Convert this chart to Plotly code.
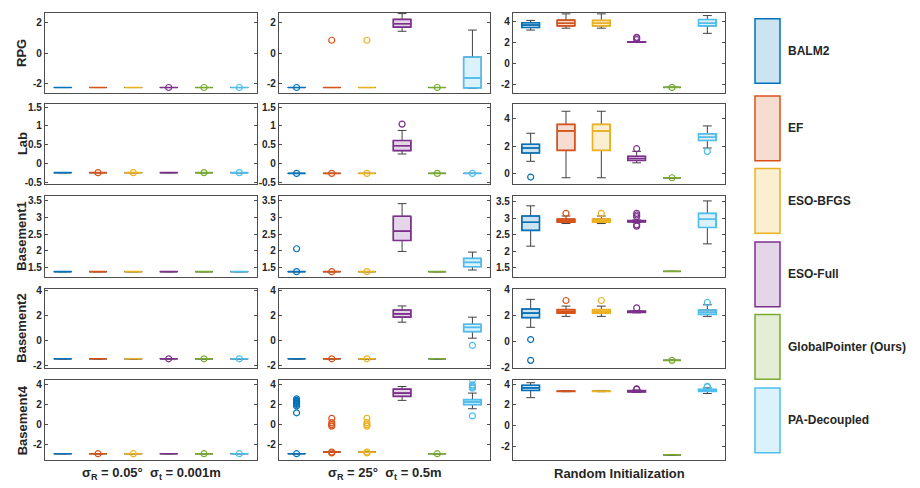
import plotly.graph_objects as go

W, H = 920, 488

methods = ["BALM2", "EF", "ESO-BFGS", "ESO-Full", "GlobalPointer (Ours)", "PA-Decoupled"]
colors = ["#0072BD", "#D95319", "#EDB120", "#7E2F8E", "#77AC30", "#4DBEEE"]
fills = ["rgba(0,114,189,0.2)", "rgba(217,83,25,0.2)", "rgba(237,177,32,0.2)",
         "rgba(126,47,142,0.2)", "rgba(119,172,48,0.2)", "rgba(77,190,238,0.2)"]
rows = ["RPG", "Lab", "Basement1", "Basement2", "Basement4"]
col_titles = ["σ<sub>R</sub> = 0.05°  σ<sub>t</sub> = 0.001m",
              "σ<sub>R</sub> = 25°  σ<sub>t</sub> = 0.5m",
              "Random Initialization"]

# stats per method: [lower whisker, q1, median, q3, upper whisker]
def flat(v):
    return [v, v, v, v, v]

# ---- RPG ----
rpg_c1 = [flat(-2.25)] * 6
rpg_c1_out = [[], [], [], [-2.25], [-2.25], [-2.25]]
rpg_c2 = [flat(-2.25), flat(-2.25), flat(-2.25), [1.44, 1.71, 1.93, 2.22, 2.6],
          flat(-2.25), [-2.3, -2.27, -1.62, -0.25, 1.52]]
rpg_c2_out = [[-2.25], [0.85], [0.85], [], [-2.25], []]
rpg_c3 = [[3.2, 3.44, 3.68, 3.9, 4.12], [3.38, 3.6, 3.85, 4.15, 4.74],
          [3.38, 3.6, 3.85, 4.12, 4.74], [2.03, 2.04, 2.06, 2.08, 2.1],
          flat(-2.25), [2.89, 3.6, 3.85, 4.2, 4.58]]
rpg_c3_out = [[], [], [], [2.3, 2.45, 2.52], [-2.25], []]

# ---- Lab ----
lab_c1 = [flat(-0.25)] * 6
lab_c1_out = [[], [-0.25], [-0.25], [], [-0.25], [-0.25]]
lab_c2 = [flat(-0.27), flat(-0.27), flat(-0.27), [0.25, 0.34, 0.47, 0.61, 0.88],
          flat(-0.27), flat(-0.27)]
lab_c2_out = [[-0.27], [-0.27], [-0.27], [1.05], [-0.27], [-0.27]]
lab_c3 = [[0.9, 1.5, 1.86, 2.13, 2.93], [-0.29, 1.69, 3.1, 3.57, 4.52],
          [-0.29, 1.69, 3.1, 3.57, 4.52], [0.79, 0.96, 1.1, 1.26, 1.62],
          flat(-0.29), [1.86, 2.41, 2.64, 2.89, 3.46]]
lab_c3_out = [[-0.24], [], [], [1.81], [-0.29], [1.62]]

# ---- Basement1 ----
b1_c1 = [flat(1.37)] * 6
b1_c1_out = [[], [], [], [], [], []]
b1_c2 = [flat(1.37), flat(1.37), flat(1.37), [1.98, 2.31, 2.59, 3.04, 3.42],
         flat(1.37), [1.42, 1.52, 1.65, 1.77, 1.96]]
b1_c2_out = [[1.37, 2.06], [1.37], [1.37], [], [], []]
b1_c3 = [[2.15, 2.63, 2.88, 3.07, 3.38], [2.84, 2.88, 2.93, 2.98, 3.07],
         [2.84, 2.88, 2.93, 2.98, 3.07], [2.87, 2.89, 2.91, 2.93, 2.95],
         flat(1.38), [2.22, 2.72, 2.97, 3.15, 3.53]]
b1_c3_out = [[], [3.15], [3.15], [3.15, 3.1, 3.05, 2.8, 2.76], [], []]

# ---- Basement2 ----
b2_c1 = [flat(-1.43)] * 6
b2_c1_out = [[], [], [], [-1.43], [-1.43], [-1.43]]
b2_c2 = [flat(-1.43), flat(-1.43), flat(-1.43), [1.5, 1.9, 2.16, 2.47, 2.8],
         flat(-1.43), [0.22, 0.74, 1.08, 1.33, 1.9]]
b2_c2_out = [[], [-1.43], [-1.43], [], [], [-0.36]]
b2_c3 = [[1.11, 1.85, 2.2, 2.52, 3.26], [1.95, 2.2, 2.33, 2.47, 2.74],
         [1.95, 2.2, 2.33, 2.47, 2.74], [2.22, 2.25, 2.3, 2.35, 2.38],
         flat(-1.43), [1.95, 2.1, 2.27, 2.44, 2.84]]
b2_c3_out = [[0.17, -1.43], [3.17], [3.17], [2.6], [-1.43], [3.02]]

# ---- Basement4 ----
b4_c1 = [flat(-2.88)] * 6
b4_c1_out = [[], [-2.88], [-2.88], [], [-2.88], [-2.88]]
b4_c2 = [flat(-2.88), flat(-2.72), flat(-2.72), [2.4, 2.79, 3.12, 3.51, 3.77],
         flat(-2.88), [1.57, 1.98, 2.25, 2.47, 3.12]]
b4_c2_out = [[-2.88, 2.55, 2.4, 2.3, 2.2, 2.1, 2.0, 1.85, 1.17],
             [-2.72, -2.8, 0.62, 0.2, 0.0, -0.15],
             [-2.72, -2.8, 0.62, 0.2, 0.0, -0.15],
             [], [-2.88], [4.42, 3.93, 3.8, 3.7, 3.6, 0.86]]
b4_c3 = [[2.7, 3.4, 3.65, 3.9, 4.15], [3.28, 3.3, 3.32, 3.34, 3.36],
         [3.28, 3.3, 3.32, 3.34, 3.36], [3.2, 3.25, 3.3, 3.38, 3.45],
         flat(-2.85), [3.1, 3.3, 3.4, 3.5, 3.65]]
b4_c3_out = [[], [], [], [3.55, 3.5], [], [3.8, 3.75]]

panels = [
    [(rpg_c1, rpg_c1_out), (rpg_c2, rpg_c2_out), (rpg_c3, rpg_c3_out)],
    [(lab_c1, lab_c1_out), (lab_c2, lab_c2_out), (lab_c3, lab_c3_out)],
    [(b1_c1, b1_c1_out), (b1_c2, b1_c2_out), (b1_c3, b1_c3_out)],
    [(b2_c1, b2_c1_out), (b2_c2, b2_c2_out), (b2_c3, b2_c3_out)],
    [(b4_c1, b4_c1_out), (b4_c2, b4_c2_out), (b4_c3, b4_c3_out)],
]

y_ranges = [
    [[-2.62, 2.65], [-2.62, 2.65], [-2.8, 4.84]],
    [[-0.56, 1.59], [-0.56, 1.59], [-0.76, 5.05]],
    [[1.2, 3.65], [1.2, 3.65], [1.2, 3.68]],
    [[-2.2, 4.15], [-2.2, 4.15], [-2.05, 4.05]],
    [[-3.55, 4.4], [-3.55, 4.4], [-3.4, 4.4]],
]
y_ticks = [
    [[-2, 0, 2], [-2, 0, 2], [-2, 0, 2, 4]],
    [[-0.5, 0, 0.5, 1, 1.5], [-0.5, 0, 0.5, 1, 1.5], [0, 2, 4]],
    [[1.5, 2, 2.5, 3, 3.5]] * 3,
    [[-2, 0, 2, 4]] * 3,
    [[-2, 0, 2, 4]] * 3,
]

# layout geometry (pixels)
col_px = [(45, 257), (279, 490), (513, 725)]
row_px = [(8, 90), (101, 183), (195, 278), (290, 371), (383, 465)]

fig = go.Figure()
layout = dict(width=W, height=H, margin=dict(l=0, r=0, t=0, b=0),
              paper_bgcolor="white", plot_bgcolor="white", showlegend=False,
              boxmode="overlay", font=dict(family="Arial, Liberation Sans", color="#262626"))
axis_color = "#4d4d4d"
tickfont = dict(family="Arial, Liberation Sans", size=10, color="#262626", weight="bold")

for r in range(5):
    for c in range(3):
        k = r * 3 + c + 1
        xa = "x" if k == 1 else f"x{k}"
        ya = "y" if k == 1 else f"y{k}"
        xk = "xaxis" if k == 1 else f"xaxis{k}"
        yk = "yaxis" if k == 1 else f"yaxis{k}"
        x0, x1 = col_px[c]
        y0, y1 = row_px[r]
        layout[xk] = dict(domain=[x0 / W, x1 / W], range=[0.5, 6.5], anchor=ya,
                          showline=True, linecolor=axis_color, linewidth=1.2, mirror=True,
                          showticklabels=False, ticks="", showgrid=False, zeroline=False,
                          fixedrange=True)
        tv = y_ticks[r][c]
        layout[yk] = dict(domain=[1 - y1 / H, 1 - y0 / H], range=y_ranges[r][c], anchor=xa,
                          showline=True, linecolor=axis_color, linewidth=1.2, mirror="ticks",
                          ticks="inside", ticklen=3, tickcolor=axis_color,
                          tickvals=tv, ticktext=[f"{t:g}" for t in tv],
                          tickfont=tickfont, showgrid=False, zeroline=False, fixedrange=True)
        stats, outs = panels[r][c]
        for i in range(6):
            lo, q1, med, q3, hi = stats[i]
            # whiskers (dark) layer
            fig.add_trace(go.Box(x=[i + 1], q1=[q1], median=[med], q3=[q3],
                                 lowerfence=[lo], upperfence=[hi], width=0.5,
                                 whiskerwidth=0.5, line=dict(color="#404040", width=1),
                                 fillcolor="rgba(0,0,0,0)", boxpoints=False,
                                 xaxis=xa, yaxis=ya, hoverinfo="skip"))
            # colored box layer
            fig.add_trace(go.Box(x=[i + 1], q1=[q1], median=[med], q3=[q3],
                                 lowerfence=[q1], upperfence=[q3], width=0.5,
                                 whiskerwidth=0, line=dict(color=colors[i], width=1.6),
                                 fillcolor=fills[i], boxpoints=False,
                                 xaxis=xa, yaxis=ya, hoverinfo="skip"))
            if outs[i]:
                fig.add_trace(go.Scatter(x=[i + 1] * len(outs[i]), y=outs[i], mode="markers",
                                         marker=dict(symbol="circle-open", size=6,
                                                     color=colors[i], line=dict(width=1.2)),
                                         xaxis=xa, yaxis=ya, hoverinfo="skip"))

annotations = []
shapes = []
# row labels
for r, name in enumerate(rows):
    y0, y1 = row_px[r]
    annotations.append(dict(x=22 / W, y=1 - (y0 + y1) / 2 / H, xref="paper", yref="paper",
                            text=f"<b>{name}</b>", showarrow=False, textangle=-90,
                            font=dict(size=13, color="#262626"), xanchor="center", yanchor="middle"))
# column labels
for c, t in enumerate(col_titles):
    x0, x1 = col_px[c]
    annotations.append(dict(x=(x0 + x1) / 2 / W, y=1 - 478 / H, xref="paper", yref="paper",
                            text=f"<b>{t}</b>", showarrow=False,
                            font=dict(size=13, color="#262626"), xanchor="center", yanchor="middle"))
# legend
label_y = [47, 126, 200, 275, 349, 424]
for i, m in enumerate(methods):
    cy = label_y[i]
    shapes.append(dict(type="rect", xref="paper", yref="paper",
                       x0=755 / W, x1=780 / W, y0=1 - (cy + 33) / H, y1=1 - (cy - 33) / H,
                       fillcolor=fills[i], line=dict(color=colors[i], width=1.5)))
    annotations.append(dict(x=786 / W, y=1 - cy / H, xref="paper", yref="paper",
                            text=f"<b>{m}</b>", showarrow=False,
                            font=dict(size=12, color="#262626"), xanchor="left", yanchor="middle"))

layout["annotations"] = annotations
layout["shapes"] = shapes
fig.update_layout(**layout)
fig.write_html("out.html")
